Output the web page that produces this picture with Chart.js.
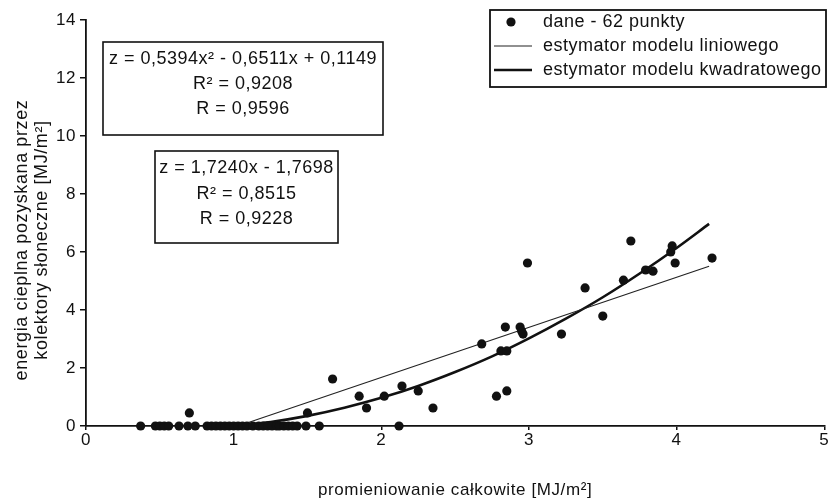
<!DOCTYPE html>
<html><head><meta charset="utf-8">
<script src="https://cdn.jsdelivr.net/npm/chart.js@4"></script>
<style>html,body{margin:0;padding:0;background:#fff}#wrap{width:829px;height:504px;position:relative}</style>
</head><body><div id="wrap"><canvas id="c" width="829" height="504"></canvas></div>
<script>
// measured data (62 points)
const pointsX = [0.37,0.47,0.50,0.53,0.56,0.63,0.69,0.74,0.82,0.85,0.88,0.91,0.94,0.97,1.00,1.03,
  1.06,1.09,1.13,1.17,1.20,1.23,1.26,1.29,1.31,1.34,1.37,1.40,1.43,1.49,1.58,2.12,
  0.70,1.50,1.67,1.85,1.90,2.02,2.14,2.25,2.35,
  2.68,2.78,2.85,2.81,2.85,2.84,2.94,2.95,2.96,2.99,3.22,3.38,3.50,3.64,3.69,3.79,3.84,3.97,3.96,3.99,4.24];
const pointsY = [0,0,0,0,0,0,0,0,0,0,0,0,0,0,0,0,
  0,0,0,0,0,0,0,0,0,0,0,0,0,0,0,0,
  0.45,0.45,1.62,1.03,0.62,1.03,1.38,1.21,0.62,
  2.83,1.03,1.21,2.59,2.59,3.41,3.41,3.28,3.17,5.62,3.17,4.76,3.79,5.03,6.38,5.38,5.34,6.21,6.00,5.62,5.79];
// linear trend line
const linX = [1.03, 4.22];
const linY = [0.0, 5.51];
// quadratic trend line
const quadX = [1.00,1.25,1.50,1.75,2.00,2.25,2.50,2.75,3.00,3.25,3.50,3.75,4.00,4.22];
const quadY = [0.00,0.14,0.35,0.63,0.97,1.38,1.86,2.40,3.02,3.70,4.44,5.26,6.14,6.97];
const xTicks = [0,1,2,3,4,5];
const yTicks = [0,2,4,6,8,10,12,14];
const legendLabels = ['dane - 62 punkty','estymator modelu liniowego','estymator modelu kwadratowego'];
const quadEq = ['z = 0,5394x\u00b2 - 0,6511x + 0,1149','R\u00b2 = 0,9208','R = 0,9596'];
const linEq = ['z = 1,7240x - 1,7698','R\u00b2 = 0,8515','R = 0,9228'];
const xTitle = 'promieniowanie całkowite [MJ/m\u00b2]';
const yTitle = ['energia cieplna pozyskana przez','kolektory słoneczne [MJ/m\u00b2]'];

const FONT = "'Liberation Sans', Arial, sans-serif";
const INK = '#111';

const toXY = (xs, ys) => xs.map((x, i) => ({x, y: ys[i]}));

const spacing = {
  id: 'spacing',
  beforeDraw(chart) { chart.ctx.letterSpacing = '0.6px'; }
};

const annot = {
  id: 'annot',
  afterDraw(chart) {
    const ctx = chart.ctx;
    ctx.save();
    // y-axis title (two centred lines, rotated)
    ctx.letterSpacing = '0.6px';
    ctx.fillStyle = INK;
    ctx.font = '18px ' + FONT;
    ctx.textAlign = 'center'; ctx.textBaseline = 'middle';
    [22, 42].forEach((x, i) => {
      ctx.save();
      ctx.translate(x, 240);
      ctx.rotate(-Math.PI / 2);
      ctx.fillText(yTitle[i], 0, 0);
      ctx.restore();
    });
    ctx.letterSpacing = '0.5px';
    function box(x0, y0, x1, y1, lines, ys, size) {
      ctx.fillStyle = '#fff';
      ctx.fillRect(x0, y0, x1 - x0, y1 - y0);
      ctx.strokeStyle = INK; ctx.lineWidth = 1.6;
      ctx.strokeRect(x0, y0, x1 - x0, y1 - y0);
      ctx.fillStyle = INK;
      ctx.font = size + 'px ' + FONT;
      ctx.textAlign = 'center'; ctx.textBaseline = 'middle';
      lines.forEach((t, i) => ctx.fillText(t, (x0 + x1) / 2, ys[i]));
    }
    box(103, 42, 383, 135, quadEq, [59, 84, 109], 18);
    box(155, 151, 338, 243, linEq, [168, 194, 219], 18);
    // legend
    ctx.fillStyle = '#fff';
    ctx.fillRect(490, 10, 336, 77);
    ctx.strokeStyle = INK; ctx.lineWidth = 1.8;
    ctx.strokeRect(490, 10, 336, 77);
    const rows = [22, 46, 70];
    const ds = chart.data.datasets;
    ctx.fillStyle = INK;
    ctx.beginPath(); ctx.arc(511, rows[0], ds[0].pointRadius, 0, Math.PI * 2); ctx.fill();
    ctx.strokeStyle = ds[1].borderColor; ctx.lineWidth = ds[1].borderWidth;
    ctx.beginPath(); ctx.moveTo(494, rows[1]); ctx.lineTo(532, rows[1]); ctx.stroke();
    ctx.strokeStyle = ds[2].borderColor; ctx.lineWidth = ds[2].borderWidth;
    ctx.beginPath(); ctx.moveTo(494, rows[2]); ctx.lineTo(532, rows[2]); ctx.stroke();
    ctx.letterSpacing = '0.5px';
    ctx.font = '18px ' + FONT; ctx.textAlign = 'left'; ctx.textBaseline = 'middle';
    ctx.fillStyle = INK;
    legendLabels.forEach((t, i) => ctx.fillText(t, 543, rows[i]));
    ctx.restore();
  }
};

new Chart(document.getElementById('c'), {
  type: 'scatter',
  data: {
    datasets: [
      {label: legendLabels[0], data: toXY(pointsX, pointsY), backgroundColor: INK, borderColor: INK,
        pointRadius: 4.6, pointBorderWidth: 0, showLine: false, clip: false},
      {label: legendLabels[1], data: toXY(linX, linY), showLine: true, borderColor: '#222', borderWidth: 1.2,
        pointRadius: 0, fill: false, clip: false},
      {label: legendLabels[2], data: toXY(quadX, quadY), showLine: true, borderColor: INK, borderWidth: 2.6,
        pointRadius: 0, fill: false, tension: 0.4, cubicInterpolationMode: 'monotone', clip: false}
    ]
  },
  plugins: [spacing, annot],
  options: {
    responsive: false, animation: false, devicePixelRatio: 1,
    layout: {padding: {left: 0, right: 0, top: 20, bottom: 0}},
    plugins: {legend: {display: false}, tooltip: {enabled: false}},
    scales: {
      x: {
        type: 'linear', min: 0, max: 5,
        afterFit: s => { s.height = 78; },
        afterBuildTicks: s => { s.ticks = xTicks.map(v => ({value: v})); },
        border: {display: true, color: INK, width: 1.8},
        grid: {display: true, drawOnChartArea: false, drawTicks: true, tickLength: 4, color: INK, lineWidth: 1.5},
        ticks: {color: INK, font: {family: FONT, size: 17}, padding: 0, maxRotation: 0},
        title: {display: true, text: xTitle, color: INK, font: {family: FONT, size: 17, lineHeight: 20/17}, padding: {top: 0, bottom: 4}}
      },
      y: {
        type: 'linear', min: 0, max: 14,
        afterFit: s => { s.width = 86; },
        afterBuildTicks: s => { s.ticks = yTicks.map(v => ({value: v})); },
        border: {display: true, color: INK, width: 1.8},
        grid: {display: true, drawOnChartArea: false, drawTicks: true, tickLength: 6, color: INK, lineWidth: 1.5},
        ticks: {color: INK, font: {family: FONT, size: 17}, padding: 4},
        title: {display: false}
      }
    }
  }
});
</script></body></html>
